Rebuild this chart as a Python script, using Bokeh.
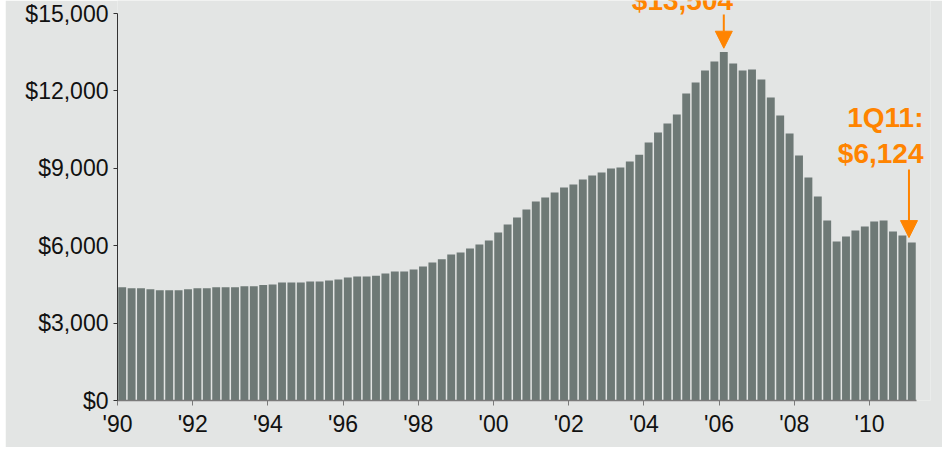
from bokeh.plotting import figure
from bokeh.models import Range1d, FixedTicker, NumeralTickFormatter, Arrow, NormalHead, Label, ColumnDataSource
from bokeh.embed import file_html
from bokeh.resources import INLINE

# Quarterly categories 1Q90 .. 1Q11
quarters = [f"{q}Q{y % 100:02d}" for y in range(1990, 2012) for q in range(1, 5)][:85]

values = [
    4390, 4350, 4350, 4310,   # 1990
    4270, 4270, 4270, 4310,   # 1991
    4350, 4350, 4390, 4390,   # 1992
    4390, 4430, 4430, 4480,   # 1993
    4500, 4570, 4570, 4570,   # 1994
    4610, 4610, 4650, 4690,   # 1995
    4770, 4810, 4810, 4840,   # 1996
    4920, 5000, 5000, 5080,   # 1997
    5190, 5350, 5470, 5660,   # 1998
    5740, 5890, 6050, 6200,   # 1999
    6510, 6820, 7090, 7400,   # 2000
    7710, 7870, 8060, 8260,   # 2001
    8370, 8570, 8720, 8840,   # 2002
    8990, 9030, 9260, 9530,   # 2003
    10000, 10390, 10740, 11090,  # 2004
    11900, 12330, 12790, 13140,  # 2005
    13504, 13060, 12790, 12830,  # 2006
    12440, 11740, 11050, 10350,  # 2007
    9500, 8640, 7910, 6980,   # 2008
    6160, 6360, 6590, 6740,   # 2009
    6940, 6980, 6550, 6400,   # 2010
    6124,                     # 1Q11
]

year_ticks = list(range(0, 81, 8))
year_labels = ["'90", "'92", "'94", "'96", "'98", "'00", "'02", "'04", "'06", "'08", "'10"]
y_ticks = [0, 3000, 6000, 9000, 12000, 15000]

BG = "#E3E5E4"
BAR = "#6E7976"
ORANGE = "#FF8400"
FONT = "Liberation Sans"

src = ColumnDataSource(dict(x=[i + 0.5 for i in range(len(values))], top=values, q=quarters))

p = figure(width=937, height=447, output_backend="svg", toolbar_location=None,
           x_range=Range1d(0, 813 / 9.4), y_range=Range1d(0, 400 / 0.0258),
           min_border_left=112, min_border_right=12, min_border_top=0, min_border_bottom=47,
           styles={"margin-left": "5px"})
p.background_fill_color = BG
p.border_fill_color = BG
p.outline_line_color = None
p.grid.grid_line_color = None

p.vbar(x="x", top="top", width=0.84, source=src, fill_color=BAR, line_color=None)

# y axis
ya = p.yaxis[0]
ya.ticker = FixedTicker(ticks=y_ticks)
ya.formatter = NumeralTickFormatter(format="$0,0")
ya.bounds = (0, 15000)
ya.axis_line_color = "#333333"
ya.major_tick_line_color = "#333333"
ya.major_tick_out = 4
ya.major_tick_in = 0
ya.minor_tick_line_color = None
ya.major_label_text_font = FONT
ya.major_label_text_font_size = "23px"
ya.major_label_text_color = "#111111"
ya.major_label_standoff = 5

# x axis
xa = p.xaxis[0]
xa.ticker = FixedTicker(ticks=year_ticks)
xa.major_label_overrides = {t: l for t, l in zip(year_ticks, year_labels)}
xa.bounds = (0, len(values))
xa.axis_line_color = "#7a7a7a"
xa.axis_line_width = 1.5
xa.major_tick_line_color = "#7a7a7a"
xa.major_tick_out = 5
xa.major_tick_in = 0
xa.minor_tick_line_color = None
xa.major_label_text_font = FONT
xa.major_label_text_font_size = "23px"
xa.major_label_text_color = "#111111"
xa.major_label_standoff = 5

# Peak annotation
peak_i = max(range(len(values)), key=lambda i: values[i])
peak_v = values[peak_i]
p.add_layout(Arrow(end=NormalHead(size=17, fill_color=ORANGE, line_color=ORANGE),
                   x_start=peak_i + 0.5, y_start=14960, x_end=peak_i + 0.5, y_end=peak_v + 150,
                   line_color=ORANGE, line_width=2))
p.add_layout(Label(x=peak_i - 3.9, y=15500, text=f"${peak_v:,}", text_align="center",
                   text_baseline="alphabetic", text_font=FONT, text_font_style="bold",
                   text_font_size="28px", text_color=ORANGE))

# Last quarter annotation
last_i = len(values) - 1
last_v = values[last_i]
p.add_layout(Arrow(end=NormalHead(size=17, fill_color=ORANGE, line_color=ORANGE),
                   x_start=last_i + 0.2, y_start=8950, x_end=last_i + 0.2, y_end=last_v + 190,
                   line_color=ORANGE, line_width=2))
p.add_layout(Label(x=last_i + 1.74, y=10970, text=f"{quarters[last_i]}:", text_align="right",
                   text_baseline="alphabetic", text_font=FONT, text_font_style="bold",
                   text_font_size="28px", text_color=ORANGE))
p.add_layout(Label(x=last_i + 1.74, y=9575, text=f"${last_v:,}", text_align="right",
                   text_baseline="alphabetic", text_font=FONT, text_font_style="bold",
                   text_font_size="28px", text_color=ORANGE))

open("out.html", "w").write(file_html(p, INLINE))
